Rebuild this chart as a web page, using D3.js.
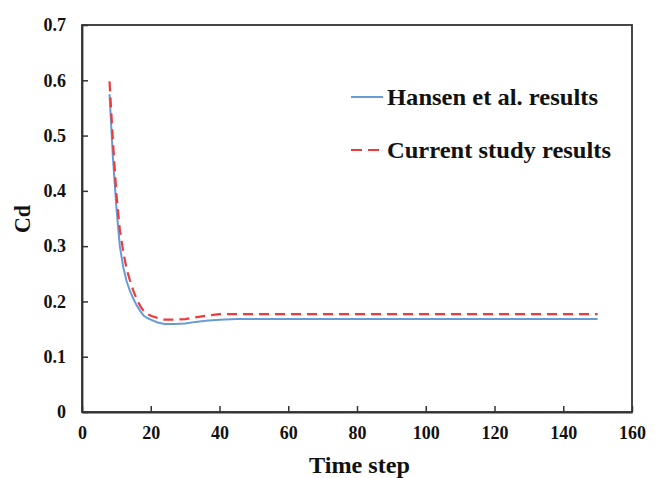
<!DOCTYPE html>
<html><head><meta charset="utf-8">
<script src="https://cdn.jsdelivr.net/npm/d3@7/dist/d3.min.js"></script>
<style>body{margin:0;background:#fff}</style>
</head><body>
<svg id="c" width="658" height="478"></svg>
<script>
const xTicks = [0,20,40,60,80,100,120,140,160];
const yTicks = [0,0.1,0.2,0.3,0.4,0.5,0.6,0.7];
const seriesNames = ["Hansen et al. results","Current study results"];
const hansenT  = [8,9,10,11,12,13,14,15,16,17,18,19,20,22,24,27,30,33,36,40,45,50,60,80,100,120,150];
const hansenCd = [0.575,0.46,0.37,0.30,0.262,0.236,0.218,0.204,0.192,0.182,0.174,0.170,0.167,0.162,0.159,0.159,0.160,0.163,0.165,0.167,0.168,0.168,0.168,0.168,0.168,0.168,0.168];
const currentT  = [8,9,10,11,12,13,14,15,16,17,18,19,20,22,24,27,30,33,36,40,45,50,60,80,100,120,150];
const currentCd = [0.598,0.49,0.395,0.33,0.29,0.258,0.237,0.218,0.203,0.191,0.182,0.177,0.174,0.170,0.167,0.167,0.168,0.171,0.174,0.177,0.177,0.177,0.177,0.177,0.177,0.177,0.177];

const svg = d3.select("#c");
const L=82, R=632, T=25, B=412;
const x = d3.scaleLinear().domain([0,160]).range([L,R]);
const y = d3.scaleLinear().domain([0,0.7]).range([B,T]);
const font = "'Liberation Serif','Times New Roman',serif";
const axisColor = "#333";

svg.append("rect").attr("x",L).attr("y",T).attr("width",R-L).attr("height",B-T)
  .attr("fill","none").attr("stroke",axisColor).attr("stroke-width",1.8);

const xa = svg.append("g").attr("transform",`translate(0,${B})`)
  .call(d3.axisBottom(x).tickValues(xTicks).tickSizeInner(-6).tickSizeOuter(0).tickPadding(14).tickFormat(d3.format("d")));
const ya = svg.append("g").attr("transform",`translate(${L},0)`)
  .call(d3.axisLeft(y).tickValues(yTicks).tickSizeInner(-6).tickSizeOuter(0).tickPadding(16).tickFormat(d=>d===0?"0":d3.format(".1f")(d)));
[xa,ya].forEach(a=>{
  a.select(".domain").attr("stroke",axisColor).attr("stroke-width",1.8);
  a.selectAll(".tick line").attr("stroke",axisColor).attr("stroke-width",1.5);
  a.selectAll(".tick text").attr("font-family",font).attr("font-weight","bold")
    .attr("font-size",18).attr("fill","#111");
});

const line = d3.line().x(d=>x(d[0])).y(d=>y(d[1]));
const hansen = hansenT.map((t,i)=>[t,hansenCd[i]]);
const current = currentT.map((t,i)=>[t,currentCd[i]]);
svg.append("path").datum(hansen).attr("d",line).attr("fill","none")
  .attr("stroke","#6a9ad6").attr("stroke-width",2);
svg.append("path").datum(current).attr("d",line).attr("fill","none")
  .attr("stroke","#f03a3a").attr("stroke-width",2.2).attr("stroke-dasharray","10,6");

const leg = [{y:97,ty:105,w:211,c:"#6a9ad6",d:null},{y:150,ty:158,w:224,c:"#f03a3a",d:"11,6"}];
leg.forEach((l,i)=>{
  svg.append("line").attr("x1",351).attr("x2",383).attr("y1",l.y).attr("y2",l.y)
    .attr("stroke",l.c).attr("stroke-width",2).attr("stroke-dasharray",l.d);
  svg.append("text").attr("x",387).attr("y",l.ty).text(seriesNames[i])
    .attr("textLength",l.w).attr("lengthAdjust","spacingAndGlyphs")
    .attr("font-family",font).attr("font-weight","bold").attr("font-size",23).attr("fill","#111");
});

svg.append("text").attr("x",309).attr("y",473)
  .attr("textLength",101).attr("lengthAdjust","spacingAndGlyphs")
  .text("Time step").attr("font-family",font).attr("font-weight","bold").attr("font-size",23).attr("fill","#111");
svg.append("text").attr("transform","translate(30,233) rotate(-90)")
  .attr("textLength",28).attr("lengthAdjust","spacingAndGlyphs")
  .text("Cd").attr("font-family",font).attr("font-weight","bold").attr("font-size",24).attr("fill","#111");
</script>
</body></html>
